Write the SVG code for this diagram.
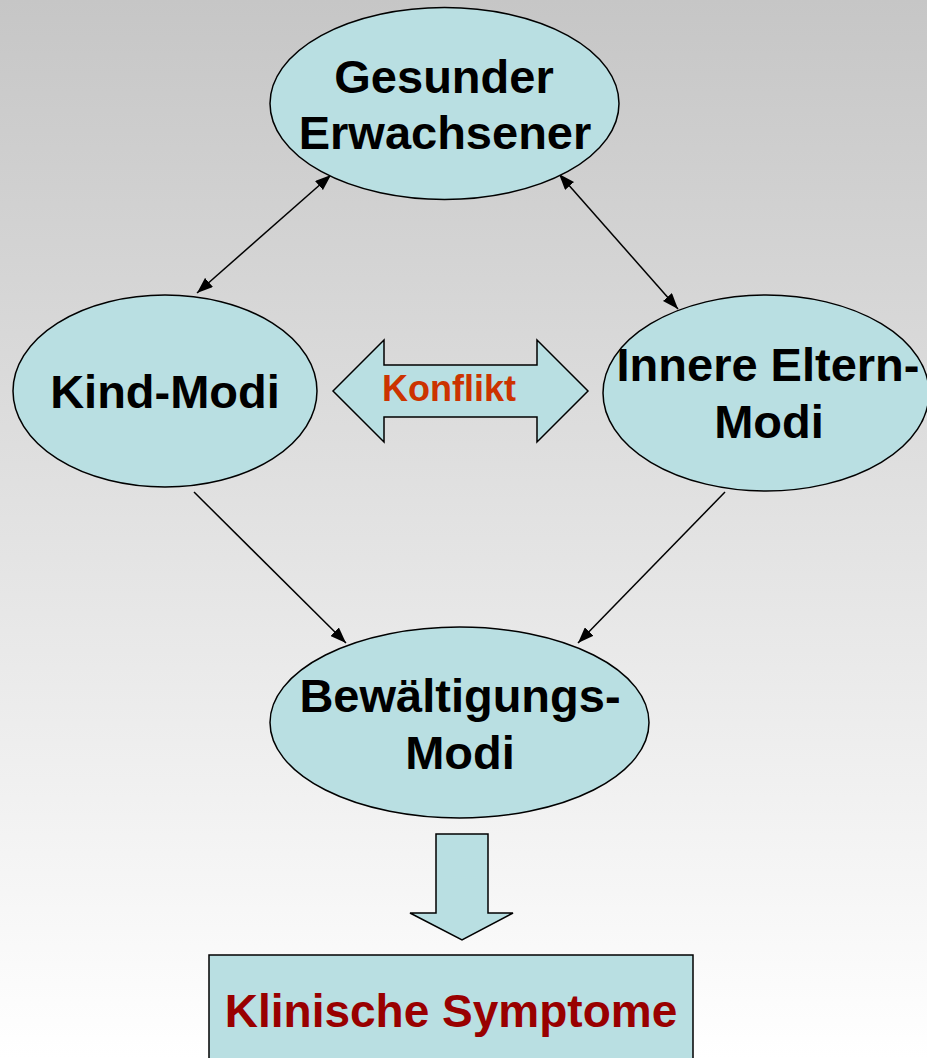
<svg xmlns="http://www.w3.org/2000/svg" width="927" height="1058" viewBox="0 0 927 1058">
  <defs>
    <linearGradient id="bg" x1="0" y1="0" x2="0" y2="1">
      <stop offset="0" stop-color="#c6c6c6"/>
      <stop offset="1" stop-color="#ffffff"/>
    </linearGradient>
    <marker id="head" viewBox="0 0 16 12" refX="16" refY="6" markerWidth="16" markerHeight="12" markerUnits="userSpaceOnUse" orient="auto-start-reverse">
      <path d="M0,0 L16,6 L0,12 Z" fill="#000"/>
    </marker>
    <style>
      .node { fill: #b9dfe2; stroke: #000; stroke-width: 1.5; }
      .label { font-family: "Liberation Sans", Arial, sans-serif; font-weight: bold; font-size: 47px; fill: #000; text-anchor: middle; }
      .link { fill: none; stroke: #000; stroke-width: 1.5; }
      .block { fill: #b9dfe2; stroke: #000; stroke-width: 1.5; stroke-linejoin: miter; }
    </style>
  </defs>

  <rect x="0" y="0" width="927" height="1058" fill="url(#bg)"/>

  <!-- connectors between the modes -->
  <g id="connectors">
    <line class="link" x1="197" y1="293" x2="331" y2="175" marker-start="url(#head)" marker-end="url(#head)"/>
    <line class="link" x1="559" y1="174" x2="678" y2="309" marker-start="url(#head)" marker-end="url(#head)"/>
    <line class="link" x1="194" y1="492" x2="346" y2="643" marker-end="url(#head)"/>
    <line class="link" x1="725" y1="492" x2="578" y2="643" marker-end="url(#head)"/>
  </g>

  <g id="gesunder-erwachsener">
    <ellipse class="node" cx="444.5" cy="103.5" rx="174.5" ry="96"/>
    <text class="label" x="444" y="93">Gesunder</text>
    <text class="label" x="445" y="149">Erwachsener</text>
  </g>

  <g id="kind-modi">
    <ellipse class="node" cx="165" cy="391" rx="152" ry="96"/>
    <text class="label" x="165" y="408">Kind-Modi</text>
  </g>

  <g id="eltern-modi">
    <ellipse class="node" cx="766" cy="393" rx="163" ry="98"/>
    <text class="label" x="768" y="381">Innere Eltern-</text>
    <text class="label" x="769" y="438">Modi</text>
  </g>

  <!-- double block arrow: conflict -->
  <g id="konflikt">
    <path class="block" d="M333,391 L384,340 L384,365 L537,365 L537,340 L588,391 L537,442 L537,417 L384,417 L384,442 Z"/>
    <text x="449" y="401" font-family="'Liberation Sans', Arial, sans-serif" font-weight="bold" font-size="36" fill="#cc3300" text-anchor="middle">Konflikt</text>
  </g>

  <g id="bewaeltigungs-modi">
    <ellipse class="node" cx="459.5" cy="722.5" rx="189.5" ry="95.5"/>
    <text class="label" x="460" y="712">Bewältigungs-</text>
    <text class="label" x="460" y="769">Modi</text>
  </g>

  <!-- down block arrow -->
  <g id="pfeil-unten">
    <path class="block" d="M436,834 L488,834 L488,913 L513,913 L462,940 L410,913 L436,913 Z"/>
  </g>

  <g id="klinische-symptome">
    <rect class="node" x="209" y="955" width="484" height="120"/>
    <text x="451" y="1027" font-family="'Liberation Sans', Arial, sans-serif" font-weight="bold" font-size="46" fill="#990000" text-anchor="middle">Klinische Symptome</text>
  </g>
</svg>
